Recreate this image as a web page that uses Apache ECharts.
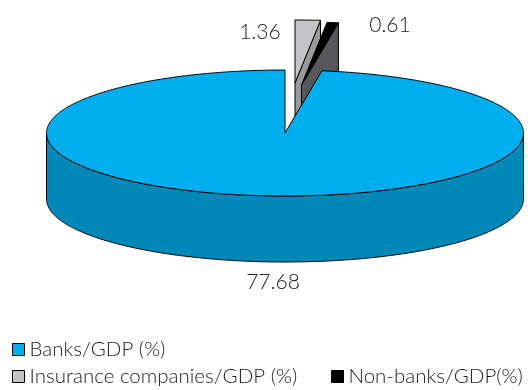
<!DOCTYPE html>
<html><head><meta charset="utf-8">
<style>html,body{margin:0;padding:0;background:#fff}#c{width:531px;height:390px}</style>
<script src="https://cdn.jsdelivr.net/npm/echarts@6/dist/echarts.min.js"></script>
</head><body><div id="c"></div>
<script>
const categories = ['Banks/GDP (%)', 'Insurance companies/GDP (%)', 'Non-banks/GDP(%)'];
const values = [77.68, 1.36, 0.61];
const valueLabels = ['77.68', '1.36', '0.61'];
const topColors = ['#00aeef', '#c4c4c6', '#000000'];
const sideColors = ['#0088b8', '#9a9a9c', '#58585a'];

const FONT = 'Lato';
const total = values.reduce((a, b) => a + b, 0);
const cx = 285, cy = 133, rx = 238.5, ry = 63, depth = 66;
// clockwise from 12 o'clock: insurance, non-banks, banks
const order = [1, 2, 0];
const offsets = { 0: [0, 0], 1: [10, -50], 2: [16.5, -48] };
const labelPos = { 0: [273, 282], 1: [260, 32], 2: [390, 25] };
const spans = {};
let acc = 0;
order.forEach(i => { const s = acc; acc += values[i] / total * 360; spans[i] = [s, acc]; });

const pt = (t, dx, dy) => {
  const r = t * Math.PI / 180;
  return [cx + dx + rx * Math.sin(r), cy + dy - ry * Math.cos(r)];
};
const arc = (a, b, dx, dy) => {
  const out = [], n = Math.max(2, Math.ceil(Math.abs(b - a) * 2));
  for (let k = 0; k <= n; k++) out.push(pt(a + (b - a) * k / n, dx, dy));
  return out;
};
const poly = (points, fill, z) => ({
  type: 'polygon', z2: z, shape: { points },
  style: { fill, stroke: '#000', lineWidth: 1, lineJoin: 'round' }
});
const renderSlice = i => () => {
  const [a, b] = spans[i], [dx, dy] = offsets[i];
  const kids = [];
  const apex = [cx + dx, cy + dy];
  if (i === 0) {
    const front = arc(90, 270, dx, dy);
    const low = front.map(p => [p[0], p[1] + depth]).reverse();
    kids.push(poly(front.concat(low), sideColors[i], 1));
  } else {
    const e = pt(b, dx, dy);
    kids.push(poly([apex, e, [e[0], e[1] + depth], [apex[0], apex[1] + depth]], sideColors[i], 1));
  }
  kids.push(poly([apex].concat(arc(a, b, dx, dy)), topColors[i], 2));
  kids.push({
    type: 'text', z2: 3,
    style: {
      text: valueLabels[i], x: labelPos[i][0], y: labelPos[i][1],
      align: 'center', verticalAlign: 'middle',
      font: '300 21px ' + FONT, fill: '#222'
    }
  });
  return { type: 'group', children: kids };
};
const seriesZ = { 1: 1, 2: 2, 0: 3 };
const legendAt = (i, left, top) => ({
  left, top, orient: 'horizontal', itemWidth: 12, itemHeight: 12, itemGap: 0, padding: 0,
  selectedMode: false,
  textStyle: { fontFamily: FONT, fontWeight: 300, fontSize: 20.5, color: '#222' },
  data: [{ name: categories[i], icon: 'rect', itemStyle: { borderColor: '#000', borderWidth: 1 } }]
});
const chart = echarts.init(document.getElementById('c'));
chart.setOption({
  animation: false,
  legend: [legendAt(0, 12, 339), legendAt(1, 12, 366), legendAt(2, 331, 366)],
  series: categories.map((name, i) => ({
    type: 'custom', name, coordinateSystem: 'none', z: seriesZ[i],
    itemStyle: { color: topColors[i] },
    renderItem: renderSlice(i),
    data: [[values[i]]]
  }))
});
</script></body></html>
